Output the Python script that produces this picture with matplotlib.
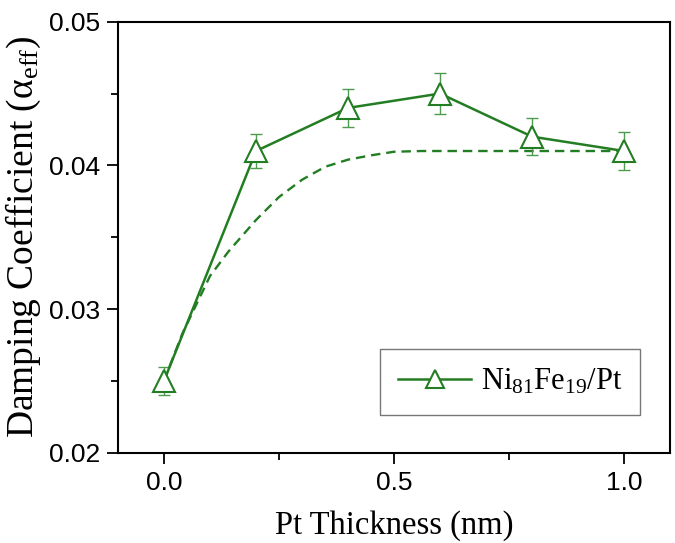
import numpy as np
import matplotlib
matplotlib.use("Agg")
import matplotlib.pyplot as plt
from matplotlib.ticker import MultipleLocator, FormatStrFormatter

# measured points
thickness = [0.0, 0.2, 0.4, 0.6, 0.8, 1.0]
alpha_eff = [0.025, 0.041, 0.044, 0.045, 0.042, 0.041]
alpha_err = [0.0010, 0.0012, 0.0013, 0.0014, 0.0013, 0.0013]

# dashed guide curve
guide_x = [0.0, 0.04, 0.1, 0.14, 0.2, 0.25, 0.3, 0.35, 0.4, 0.45, 0.5, 0.56, 0.7, 0.85, 1.0]
guide_y = [0.025, 0.0283, 0.0323, 0.0340, 0.0362, 0.0378, 0.0390, 0.0399, 0.0404,
           0.0407, 0.04095, 0.0410, 0.0410, 0.0410, 0.0410]

series_label = r"Ni$_{81}$Fe$_{19}$/Pt"

green = "#237d23"
err_green = "#4e9a4e"
serif = "Liberation Serif"

plt.rcParams["mathtext.fontset"] = "custom"
plt.rcParams["mathtext.rm"] = serif
plt.rcParams["mathtext.it"] = serif + ":italic"

fig = plt.figure(figsize=(6.75, 5.43), dpi=100)
ax = fig.add_axes([0.1748, 0.1663, 0.818, 0.7937])

ax.plot(guide_x, guide_y, color=green, linestyle=(0, (4, 2.5)), linewidth=1.7)

ax.errorbar(thickness, alpha_eff, yerr=alpha_err, fmt="none", ecolor=err_green,
            elinewidth=1.0, capsize=4, capthick=1.0)
ax.plot(thickness, alpha_eff, color=green, linewidth=1.8, marker="^",
        markersize=16, markerfacecolor="white", markeredgecolor=green,
        markeredgewidth=1.5, label=series_label)

ax.set_xlim(-0.1, 1.1)
ax.set_ylim(0.02, 0.05)
ax.xaxis.set_major_locator(MultipleLocator(0.5))
ax.xaxis.set_minor_locator(MultipleLocator(0.25))
ax.yaxis.set_major_locator(MultipleLocator(0.01))
ax.yaxis.set_minor_locator(MultipleLocator(0.005))
ax.xaxis.set_major_formatter(FormatStrFormatter("%.1f"))
ax.yaxis.set_major_formatter(FormatStrFormatter("%.2f"))

ax.tick_params(which="major", direction="out", length=8, width=1.3,
               labelsize=19, pad=5)
ax.tick_params(which="minor", direction="out", length=5, width=1.3)
for lab in ax.get_xticklabels() + ax.get_yticklabels():
    lab.set_family("Liberation Sans")
for sp in ax.spines.values():
    sp.set_linewidth(1.5)

ax.set_xlabel("Pt Thickness (nm)", fontsize=23.5, family=serif, labelpad=11)
ax.set_ylabel(r"Damping Coefficient (α$_{\rm eff}$)", fontsize=27,
              family=serif, labelpad=4)

leg = ax.legend(loc="lower right", bbox_to_anchor=(0.946, 0.087),
                borderaxespad=0, prop={"family": serif, "size": 22},
                fancybox=False, handlelength=2.4, borderpad=0.6,
                handletextpad=0.3, markerscale=0.85)
leg.get_frame().set_edgecolor("#555555")
leg.get_frame().set_linewidth(1.0)

fig.savefig("out.png", dpi=100)
